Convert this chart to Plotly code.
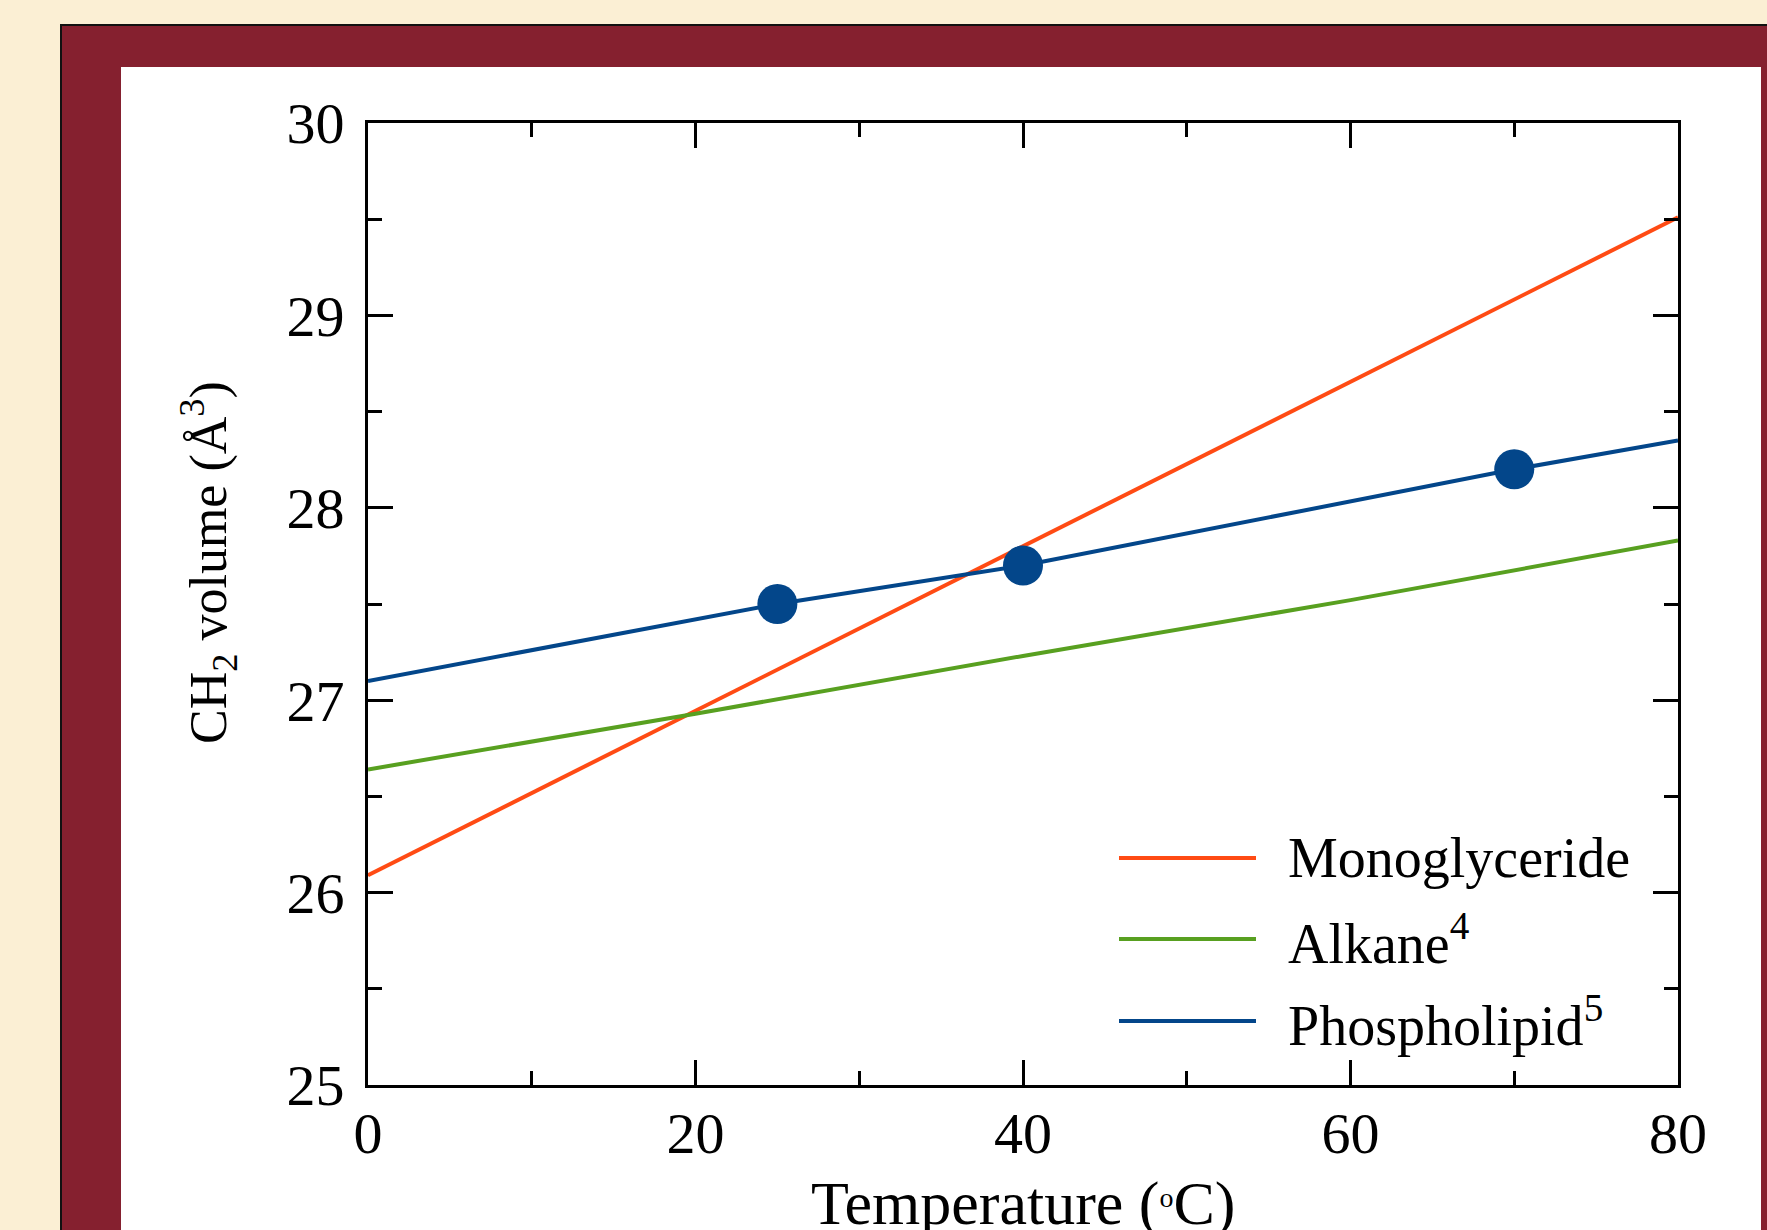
import plotly.graph_objects as go

# ---- data ----
mono_x = [0, 80]
mono_y = [26.09, 29.51]

alkane_x = [0, 20, 40, 60, 80]
alkane_y = [26.64, 26.93, 27.23, 27.52, 27.83]

phospho_x = [0, 25, 40, 70, 80]
phospho_y = [27.10, 27.50, 27.70, 28.20, 28.35]

point_x = [25, 40, 70]
point_y = [27.50, 27.70, 28.20]

series_names = ["Monoglyceride", "Alkane<sup>4</sup>", "Phospholipid<sup>5</sup>"]
series_colors = ["#FF4B14", "#58A020", "#03468A"]

x_ticks = [0, 20, 40, 60, 80]
y_ticks = [25, 26, 27, 28, 29, 30]

FONT = "Liberation Serif, Times New Roman, serif"
W, H = 1767, 1230
L, R, T, B = 368, 1678, 123, 1085


def px_x(p):
    return (p - L) / (R - L)


def px_y(p):
    return (B - p) / (B - T)


fig = go.Figure()
fig.add_trace(go.Scatter(x=mono_x, y=mono_y, mode="lines", name=series_names[0],
                         line=dict(color=series_colors[0], width=4), showlegend=False))
fig.add_trace(go.Scatter(x=alkane_x, y=alkane_y, mode="lines", name=series_names[1],
                         line=dict(color=series_colors[1], width=4), showlegend=False))
fig.add_trace(go.Scatter(x=phospho_x, y=phospho_y, mode="lines", name=series_names[2],
                         line=dict(color=series_colors[2], width=4), showlegend=False))
fig.add_trace(go.Scatter(x=point_x, y=point_y, mode="markers", name="Phospholipid data",
                         marker=dict(color="#03468A", size=40, line=dict(width=0)),
                         showlegend=False))

shapes = [
    # maroon frame
    dict(type="rect", xref="paper", yref="paper", layer="below",
         x0=px_x(61), x1=px_x(1850), y0=px_y(1350), y1=px_y(25),
         fillcolor="#85202F", line=dict(color="#111111", width=2)),
    # white panel
    dict(type="rect", xref="paper", yref="paper", layer="below",
         x0=px_x(121), x1=px_x(1761), y0=px_y(1350), y1=px_y(67),
         fillcolor="#FFFFFF", line=dict(width=0)),
]
annotations = []
legend_rows = [858, 939, 1021]
for name, color, row in zip(series_names, series_colors, legend_rows):
    shapes.append(dict(type="line", xref="paper", yref="paper",
                       x0=px_x(1119), x1=px_x(1256), y0=px_y(row), y1=px_y(row),
                       line=dict(color=color, width=4)))
    annotations.append(dict(xref="paper", yref="paper", x=px_x(1286), y=px_y(row),
                            xanchor="left", yanchor="middle", showarrow=False,
                            text=name, font=dict(family=FONT, size=56, color="black")))

# axis titles placed as text annotations
annotations.append(dict(xref="paper", yref="paper", x=px_x(208), y=px_y(563),
                        xanchor="center", yanchor="middle", showarrow=False, textangle=-90,
                        text="CH<sub>2</sub> volume (Å<sup>3</sup>)",
                        font=dict(family=FONT, size=52, color="black")))
annotations.append(dict(xref="paper", yref="paper", x=px_x(1023), y=px_y(1240),
                        xanchor="center", yanchor="bottom", showarrow=False,
                        text="Temperature (<span style='font-size:40px'><sup>o</sup></span>C)",
                        font=dict(family=FONT, size=62, color="black")))

axis_common = dict(
    showgrid=False, zeroline=False, showline=True, linecolor="black", linewidth=3,
    mirror="allticks", ticks="inside", ticklen=25, tickwidth=3, tickcolor="black",
    tickfont=dict(family=FONT, size=58, color="black"), automargin=False,
)

fig.update_layout(
    width=W, height=H,
    margin=dict(l=L, r=W - R, t=T, b=H - B, pad=0, autoexpand=False),
    paper_bgcolor="#FBEFD4",
    plot_bgcolor="#FFFFFF",
    shapes=shapes,
    annotations=annotations,
    showlegend=False,
    xaxis=dict(range=[0, 80], tickvals=x_ticks, ticklabelstandoff=-5,
               minor=dict(ticks="inside", ticklen=14, tickwidth=3, tickcolor="black", dtick=10),
               **axis_common),
    yaxis=dict(range=[25, 30], tickvals=y_ticks, ticklabelstandoff=9,
               minor=dict(ticks="inside", ticklen=14, tickwidth=3, tickcolor="black", dtick=0.5),
               **axis_common),
)

fig.write_html("out.html")
